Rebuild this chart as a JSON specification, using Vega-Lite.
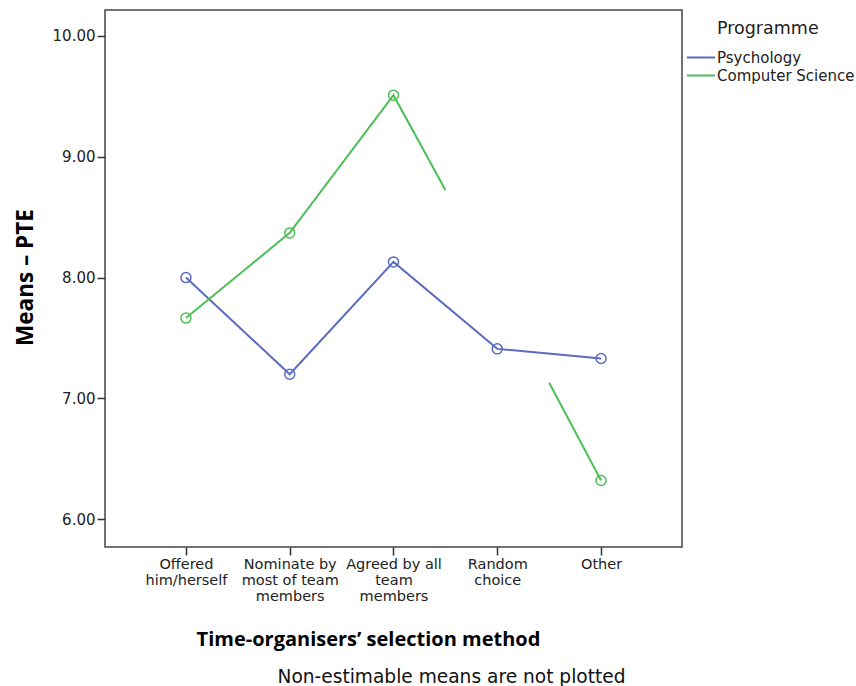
{
  "$schema": "https://vega.github.io/schema/vega-lite/v6.json",
  "width": 577,
  "height": 537,
  "autosize": {"type": "none"},
  "padding": {"left": 105, "top": 10, "right": 174, "bottom": 139},
  "background": "white",
  "title": {
    "text": "Non-estimable means are not plotted",
    "orient": "bottom",
    "anchor": "middle",
    "dx": 58,
    "offset": 19,
    "font": "DejaVu Sans",
    "fontSize": 18.6,
    "fontWeight": "normal",
    "color": "#111111"
  },
  "config": {
    "view": {"stroke": "#444444", "strokeWidth": 1.5},
    "axis": {
      "grid": false,
      "domain": false,
      "tickColor": "#333333",
      "tickWidth": 1.5,
      "tickSize": 8,
      "labelFont": "DejaVu Sans",
      "labelFontSize": 15,
      "labelColor": "#222222",
      "titleFont": "Open Sans",
      "titleFontWeight": "bold",
      "titleColor": "#000000"
    },
    "legend": {
      "titleFont": "DejaVu Sans",
      "titleFontSize": 17.5,
      "titleFontWeight": "normal",
      "titleColor": "#222222",
      "labelFont": "DejaVu Sans",
      "labelFontSize": 15,
      "labelColor": "#222222"
    }
  },
  "data": {
    "values": [
      {"programme": "Psychology", "seg": "P", "pos": 1, "mean": 8.00, "marker": true},
      {"programme": "Psychology", "seg": "P", "pos": 2, "mean": 7.20, "marker": true},
      {"programme": "Psychology", "seg": "P", "pos": 3, "mean": 8.13, "marker": true},
      {"programme": "Psychology", "seg": "P", "pos": 4, "mean": 7.41, "marker": true},
      {"programme": "Psychology", "seg": "P", "pos": 5, "mean": 7.33, "marker": true},
      {"programme": "Computer Science", "seg": "C1", "pos": 1, "mean": 7.665, "marker": true},
      {"programme": "Computer Science", "seg": "C1", "pos": 2, "mean": 8.37, "marker": true},
      {"programme": "Computer Science", "seg": "C1", "pos": 3, "mean": 9.51, "marker": true},
      {"programme": "Computer Science", "seg": "C1", "pos": 3.5, "mean": 8.725, "marker": false},
      {"programme": "Computer Science", "seg": "C2", "pos": 4.5, "mean": 7.13, "marker": false},
      {"programme": "Computer Science", "seg": "C2", "pos": 5, "mean": 6.32, "marker": true}
    ]
  },
  "encoding": {
    "x": {
      "field": "pos",
      "type": "quantitative",
      "scale": {"domain": [0.22, 5.78], "nice": false, "zero": false},
      "axis": {
        "values": [1, 2, 3, 4, 5],
        "labelExpr": "datum.value == 1 ? ['Offered', 'him/herself'] : datum.value == 2 ? ['Nominate by', 'most of team', 'members'] : datum.value == 3 ? ['Agreed by all', 'team', 'members'] : datum.value == 4 ? ['Random', 'choice'] : ['Other']",
        "labelFontSize": 14.5,
        "labelLineHeight": 16,
        "labelPadding": 2,
        "labelFlush": false,
        "labelOverlap": false,
        "title": "Time-organisers’ selection method",
        "titleFontSize": 20,
        "titleX": 263,
        "titleY": 98,
        "titleBaseline": "alphabetic",
        "titleAnchor": "middle",
        "titleAlign": "center"
      }
    },
    "y": {
      "field": "mean",
      "type": "quantitative",
      "scale": {"domain": [5.77, 10.215], "nice": false, "zero": false},
      "axis": {
        "values": [6, 7, 8, 9, 10],
        "format": ".2f",
        "labelPadding": 2,
        "title": "Means – PTE",
        "titleFontSize": 22.5,
        "titleAngle": 270,
        "titleX": -80,
        "titleY": 267,
        "titleBaseline": "middle",
        "titleAlign": "center",
        "titleAnchor": "middle"
      }
    },
    "color": {
      "field": "programme",
      "type": "nominal",
      "scale": {"domain": ["Psychology", "Computer Science"], "range": ["#5b6bbf", "#4cbf56"]},
      "legend": {
        "title": "Programme",
        "orient": "none",
        "legendX": 612,
        "legendY": 10,
        "padding": 0,
        "symbolType": "M-2,0H2",
        "symbolSize": 196,
        "symbolStrokeWidth": 2,
        "symbolOffset": -24,
        "labelOffset": 8,
        "rowPadding": 2,
        "titlePadding": 12
      }
    }
  },
  "layer": [
    {
      "mark": {"type": "line", "strokeWidth": 2},
      "encoding": {
        "detail": {"field": "seg"},
        "order": {"field": "pos"}
      }
    },
    {
      "transform": [{"filter": "datum.marker"}],
      "mark": {"type": "point", "shape": "circle", "filled": false, "size": 100, "strokeWidth": 1.5, "opacity": 1}
    }
  ]
}
